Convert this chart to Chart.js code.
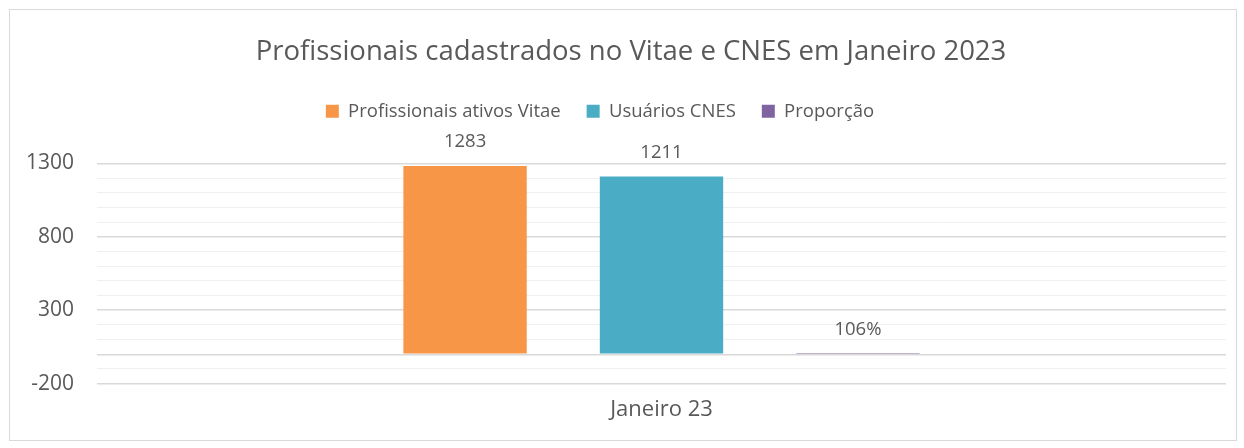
<!DOCTYPE html>
<html lang="pt">
<head>
    <meta charset="utf-8" />
    <title>Profissionais cadastrados no Vitae e CNES em Janeiro 2023</title>
    <script src="https://cdn.jsdelivr.net/npm/chart.js@4/dist/chart.umd.min.js"></script>
    <style>
        html, body { margin: 0; padding: 0; background: #fff; }
        #box {
            position: absolute; left: 9px; top: 9px;
            width: 1226px; height: 430px;
            border: 1px solid #d9d9d9;
        }
    </style>
</head>
<body>
    <div id="box"><canvas id="chart"></canvas></div>

    <script>
        // data
        var categories = ['Janeiro 23'];
        var ativosVitae = [1283];
        var usuariosCnes = [1211];
        var proporcao = [1.06];   // 106%

        var seriesNames = ['Profissionais ativos Vitae', 'Usuários CNES', 'Proporção'];
        var seriesColors = ['#F79646', '#4BACC6', '#8064A2'];

        var textColor = '#595959';
        var fontFamily = '"Open Sans", sans-serif';

        // simple value labels above each bar
        var barLabels = {
            id: 'barLabels',
            afterDatasetsDraw: function (chart) {
                var ctx = chart.ctx;
                ctx.save();
                ctx.fillStyle = textColor;
                ctx.font = '18.5px ' + fontFamily;
                ctx.textAlign = 'center';
                ctx.textBaseline = 'middle';
                chart.data.datasets.forEach(function (ds, i) {
                    var meta = chart.getDatasetMeta(i);
                    meta.data.forEach(function (bar, j) {
                        var v = ds.data[j];
                        var txt = ds.isPercent ? Math.round(v * 100) + '%' : String(v);
                        ctx.fillText(txt, bar.x, bar.y - 24);
                    });
                });
                ctx.restore();
            }
        };

        // extra room under the legend; title and legend are nudged like in the excel chart
        var nudge = {
            id: 'nudge',
            beforeInit: function (chart) {
                var fit = chart.legend.fit;
                chart.legend.fit = function () {
                    fit.bind(chart.legend)();
                    this.height += 33;
                };
            },
            afterLayout: function (chart) {
                chart.legend.left -= 18;
                chart.legend.right -= 18;
                chart.titleBlock.left += 13;
                chart.titleBlock.right += 13;
            }
        };

        function isMajor(v) {
            return v === 0 || (v + 200) % 500 === 0;
        }

        new Chart(document.getElementById('chart'), {
            type: 'bar',
            data: {
                labels: categories,
                datasets: [
                    { label: seriesNames[0], data: ativosVitae, backgroundColor: seriesColors[0] },
                    { label: seriesNames[1], data: usuariosCnes, backgroundColor: seriesColors[1] },
                    { label: seriesNames[2], data: proporcao, backgroundColor: seriesColors[2], isPercent: true }
                ]
            },
            plugins: [barLabels, nudge],
            options: {
                responsive: true,
                maintainAspectRatio: false,
                animation: false,
                datasets: {
                    bar: { categoryPercentage: 0.522, barPercentage: 0.628 }
                },
                layout: { padding: { left: 0, right: 10, top: 14, bottom: 12 } },
                plugins: {
                    title: {
                        display: true,
                        text: 'Profissionais cadastrados no Vitae e CNES em Janeiro 2023',
                        color: textColor,
                        font: { family: fontFamily, size: 27.5, weight: 'normal' },
                        padding: { top: 12, bottom: 7 }
                    },
                    legend: {
                        display: true,
                        position: 'top',
                        labels: {
                            color: textColor,
                            font: { family: fontFamily, size: 18.5 },
                            boxWidth: 13,
                            boxHeight: 13,
                            padding: 26
                        }
                    },
                    tooltip: { enabled: false }
                },
                scales: {
                    x: {
                        grid: { display: false },
                        border: { display: false },
                        ticks: { color: textColor, font: { family: fontFamily, size: 22 }, padding: 5 }
                    },
                    y: {
                        min: -200,
                        max: 1300,
                        border: { display: false },
                        afterFit: function (scale) { scale.width = 87; },
                        grid: {
                            drawTicks: false,
                            color: function (c) { return isMajor(c.tick.value) ? '#d9d9d9' : '#f0f0f0'; },
                            lineWidth: function (c) { return isMajor(c.tick.value) ? 1.5 : 1; }
                        },
                        ticks: {
                            stepSize: 100,
                            autoSkip: false,
                            color: textColor,
                            padding: 23,
                            font: { family: fontFamily, size: 21 },
                            callback: function (v) { return (v + 200) % 500 === 0 ? v : ''; }
                        }
                    }
                }
            }
        });
    </script>
</body>
</html>
